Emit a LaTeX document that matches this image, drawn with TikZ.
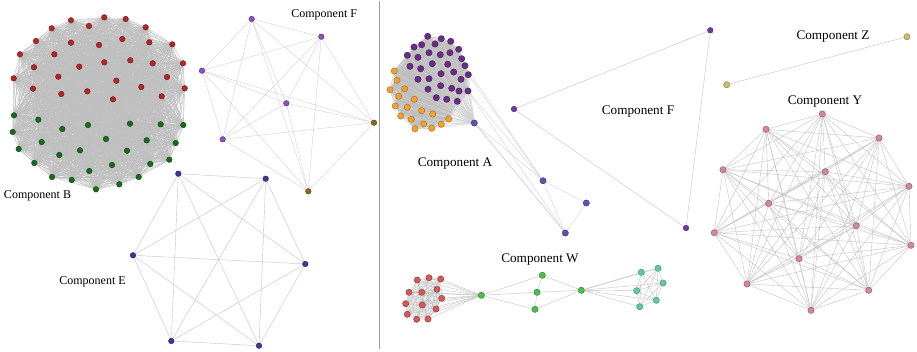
\documentclass[tikz,border=0pt]{standalone}
\usepackage{fontspec}
\setmainfont{Liberation Serif}
\pgfdeclarelayer{bg}
\pgfsetlayers{bg,main}

% vertex colours
\definecolor{bredF}{HTML}{B3262B}\definecolor{bredD}{HTML}{6E1518}
\definecolor{bgrnF}{HTML}{1A6B1A}\definecolor{bgrnD}{HTML}{0E3E0E}
\definecolor{fpurF}{HTML}{8C4FC4}\definecolor{fpurD}{HTML}{5A2E85}
\definecolor{fbrnF}{HTML}{8A6A1E}\definecolor{fbrnD}{HTML}{5A4512}
\definecolor{eblF}{HTML}{3B3896}\definecolor{eblD}{HTML}{23215E}
\definecolor{apurF}{HTML}{6B2C86}\definecolor{apurD}{HTML}{43195A}
\definecolor{aorF}{HTML}{F3A02E}\definecolor{aorD}{HTML}{A36814}
\definecolor{ablF}{HTML}{5B52B2}\definecolor{ablD}{HTML}{38307A}
\definecolor{gpurF}{HTML}{6C3AA8}\definecolor{gpurD}{HTML}{42226A}
\definecolor{zkhF}{HTML}{C9BB72}\definecolor{zkhD}{HTML}{8A7E40}
\definecolor{ypkF}{HTML}{D48796}\definecolor{ypkD}{HTML}{8A4F5A}
\definecolor{wredF}{HTML}{D25A5A}\definecolor{wredD}{HTML}{8A3333}
\definecolor{wgrnF}{HTML}{4CC04C}\definecolor{wgrnD}{HTML}{2A7A2A}
\definecolor{wtlF}{HTML}{62C9A2}\definecolor{wtlD}{HTML}{3A8A6C}

\tikzset{
  vtx/.style={circle,inner sep=0pt,minimum size=6.3pt,line width=0.4pt},
  small/.style={minimum size=5.6pt},
  bred/.style={vtx,small,fill=bredF,draw=bredD},
  bgrn/.style={vtx,small,fill=bgrnF,draw=bgrnD},
  fpur/.style={vtx,small,fill=fpurF,draw=fpurD},
  fbrn/.style={vtx,small,fill=fbrnF,draw=fbrnD},
  ebl/.style={vtx,small,fill=eblF,draw=eblD},
  apur/.style={vtx,fill=apurF,draw=apurD},
  aor/.style={vtx,fill=aorF,draw=aorD},
  abl/.style={vtx,fill=ablF,draw=ablD},
  gpur/.style={vtx,small,fill=gpurF,draw=gpurD},
  zkh/.style={vtx,fill=zkhF,draw=zkhD},
  ypk/.style={vtx,fill=ypkF,draw=ypkD},
  wred/.style={vtx,fill=wredF,draw=wredD},
  wgrn/.style={vtx,fill=wgrnF,draw=wgrnD},
  wtl/.style={vtx,fill=wtlF,draw=wtlD},
  edge/.style={draw=gray!48,line width=0.4pt},
  denseedge/.style={draw=gray!50,line width=0.45pt},
  lightedge/.style={draw=gray!36,line width=0.4pt},
  lbl/.style={inner sep=0pt,anchor=base,font=\fontsize{12}{14}\selectfont},
  lblR/.style={inner sep=0pt,anchor=base,font=\fontsize{13.2}{15}\selectfont},
  divider/.style={draw=gray!75,line width=0.8pt}
}

% every pair of the nodes #1<1>..#1<#2> joined with style #3
\newcommand\cliqueedges[3]{%
  \foreach \i in {1,...,#2}{\foreach \j in {1,...,#2}{%
    \ifnum\i<\j \draw[#3] (#1\i) -- (#1\j);\fi}}}

\begin{document}
\begin{tikzpicture}[x=1pt,y=-1pt]
\useasboundingbox (0,0) rectangle (917,351);

% ---------------- Component B ----------------
\foreach \x/\y [count=\k] in {104.3/17.3,125.7/19,71/20.3,89/26,51.7/28.3,145.7/27.3,36/41,71/42.7,99/45,122.3/39,149.3/42.3,172.3/44.3,20/54.3,54.3/54.3,104.3/62.3,130.3/60.3,152.7/63.3,183/63.3,34/67.3,79.3/66.7,167/77,13.7/78.3,58.3/76.7,116.3/80.7,184.7/88.3,33/88.7,87.3/91.3,141.3/87,61.3/94,161.7/96.3,113/99.3}
  \node[bred] (b\k) at (\x,\y) {};
\foreach \x/\y [count=\k from 32] in {14/115.3,38.3/119.7,88/125,130/123.7,160.7/124.3,183.3/125,12.7/132,62.3/129,106/139,146.7/140.3,175.7/143,41.7/142,18.7/149,80/150.3,127/150.7,59.3/155,34.3/163,150.3/164,169.3/159.7,112/165,89.3/171,52/177,71.7/180,138.7/177,96/189.3,119.3/184.3}
  \node[bgrn] (b\k) at (\x,\y) {};

% ---------------- Component F (left) ----------------
\node[fpur] (f1) at (251.7,19) {};
\node[fpur] (f2) at (321.3,36.7) {};
\node[fpur] (f3) at (202,70.7) {};
\node[fpur] (f4) at (286.3,103.3) {};
\node[fbrn] (f5) at (374,122.7) {};
\node[fpur] (f6) at (222.7,139.3) {};
\node[fbrn] (f7) at (308.3,191.3) {};

% ---------------- Component E ----------------
\foreach \x/\y [count=\k] in {178.3/173.7,265.7/178.7,133/255.3,305.3/264,171.3/341,259/345.7}
  \node[ebl] (e\k) at (\x,\y) {};

% ---------------- Component A ----------------
\foreach \x/\y [count=\k] in {427.7/36.3,441.3/38.7,450.7/41.3,414/47,421.7/44.7,435/44,458.7/49.3,407.3/55.3,418/57.3,429/52.7,440.3/54.7,450/52.7,461.7/58.7,410/66.3,420.7/68.7,432.3/63.7,447.7/64.3,465/65.7,441/73.7,453.7/72,468.3/74.7,418/79.3,429/78.7,461/79.3,440.7/85.7,451.7/88.3,428/89.3,459/91,468/91,436.3/97.7,446.7/99.3,457.3/101.3}
  \node[apur] (a\k) at (\x,\y) {};
\foreach \x/\y [count=\k from 33] in {394.3/71,397/80.3,390/89.7,404.7/88.7,398.7/96.3,414.3/99.3,395.3/106,407.3/107.3,421.7/110.7,432.7/114,400.7/116,411.3/119.3,423.7/124,431.7/128.3,441.3/124.3,448.7/119,415/128.7}
  \node[aor] (a\k) at (\x,\y) {};
\node[abl] (h0) at (474.3,123) {};
\node[abl] (h1) at (543,180.7) {};
\node[abl] (h2) at (586.3,203) {};
\node[abl] (h3) at (565.3,233) {};

% ---------------- Component F (right) ----------------
\node[gpur] (g1) at (514,109) {};
\node[gpur] (g2) at (710.3,30.3) {};
\node[gpur] (g3) at (686,228) {};

% ---------------- Component Z ----------------
\node[zkh] (z1) at (726.7,84.7) {};
\node[zkh] (z2) at (907,36.7) {};

% ---------------- Component Y ----------------
\foreach \x/\y [count=\k] in {822.3/114,766/129.3,879/138,723/169.7,825.3/171.7,909/186.3,768.7/203.3,856.3/225.7,714.3/232.7,911/245.3,799/258.7,747/284,868.7/290.3,811/310.3}
  \node[ypk] (y\k) at (\x,\y) {};

% ---------------- Component W ----------------
\foreach \x/\y [count=\k] in {417.3/280,429/277.7,440.7/279,409/292.3,421.7/292.3,437/289.3,441.7/298.3,405.7/303.7,422.3/305,436/309,407.3/314.3,416.7/319.3,428/319}
  \node[wred] (wr\k) at (\x,\y) {};
\node[wgrn] (w1) at (481.3,295.3) {};
\node[wgrn] (w2) at (542.3,275.3) {};
\node[wgrn] (w3) at (537,292.3) {};
\node[wgrn] (w4) at (535,309.3) {};
\node[wgrn] (w5) at (581.3,290.3) {};
\foreach \x/\y [count=\k] in {641.3/272.3,658/268.3,663/283,636.7/290.7,656.3/300.3,639.7/306.7}
  \node[wtl] (wt\k) at (\x,\y) {};

% ---------------- divider ----------------
\coordinate (divtop) at (379,1);
\coordinate (divbot) at (379,349);
\draw[divider] (divtop) -- (divbot);

% ---------------- edges ----------------
\begin{pgfonlayer}{bg}
  \cliqueedges{b}{57}{denseedge}
  \cliqueedges{f}{7}{lightedge}
  \cliqueedges{e}{6}{edge}
  \cliqueedges{a}{49}{denseedge}
  \foreach \k in {1,...,49} \draw[lightedge] (h0) -- (a\k);
  \foreach \k in {18,21,29} \draw[lightedge] (a\k) -- (h1);
  \foreach \k in {29,32} \draw[lightedge] (a\k) -- (h3);
  \draw[lightedge] (h0) -- (h1);
  \draw[lightedge] (h0) -- (h3);
  \draw[lightedge] (h1) -- (h2);
  \draw[lightedge] (h1) -- (h3);
  \draw[lightedge] (h2) -- (h3);
  \draw[edge] (g1) -- (g2);
  \draw[edge] (g2) -- (g3);
  \draw[edge] (g1) -- (g3);
  \draw[edge] (z1) -- (z2);
  \cliqueedges{y}{14}{edge}
  \cliqueedges{wr}{13}{edge}
  \foreach \k in {1,...,13} \draw[edge] (wr\k) -- (w1);
  \draw[edge] (w1) -- (w2);
  \draw[edge] (w1) -- (w3);
  \draw[edge] (w1) -- (w4);
  \draw[edge] (w2) -- (w3);
  \draw[edge] (w3) -- (w4);
  \draw[edge] (w2) -- (w5);
  \draw[edge] (w3) -- (w5);
  \draw[edge] (w4) -- (w5);
  \foreach \k in {1,...,6} \draw[edge] (w5) -- (wt\k);
  \cliqueedges{wt}{6}{edge}
\end{pgfonlayer}

% ---------------- labels ----------------
\node[lbl]  (lblB) at (37.5,198) {Component B};
\node[lbl]  (lblE) at (92.5,284.5) {Component E};
\node[lbl]  (lblF) at (324.2,17.5) {Component F};
\node[lblR] (lblA) at (455,166) {Component A};
\node[lblR] (lblF2) at (638,114) {Component F};
\node[lblR] (lblZ) at (833,39) {Component Z};
\node[lblR] (lblY) at (825,104) {Component Y};
\node[lblR] (lblW) at (540,262) {Component W};
\end{tikzpicture}
\end{document}
